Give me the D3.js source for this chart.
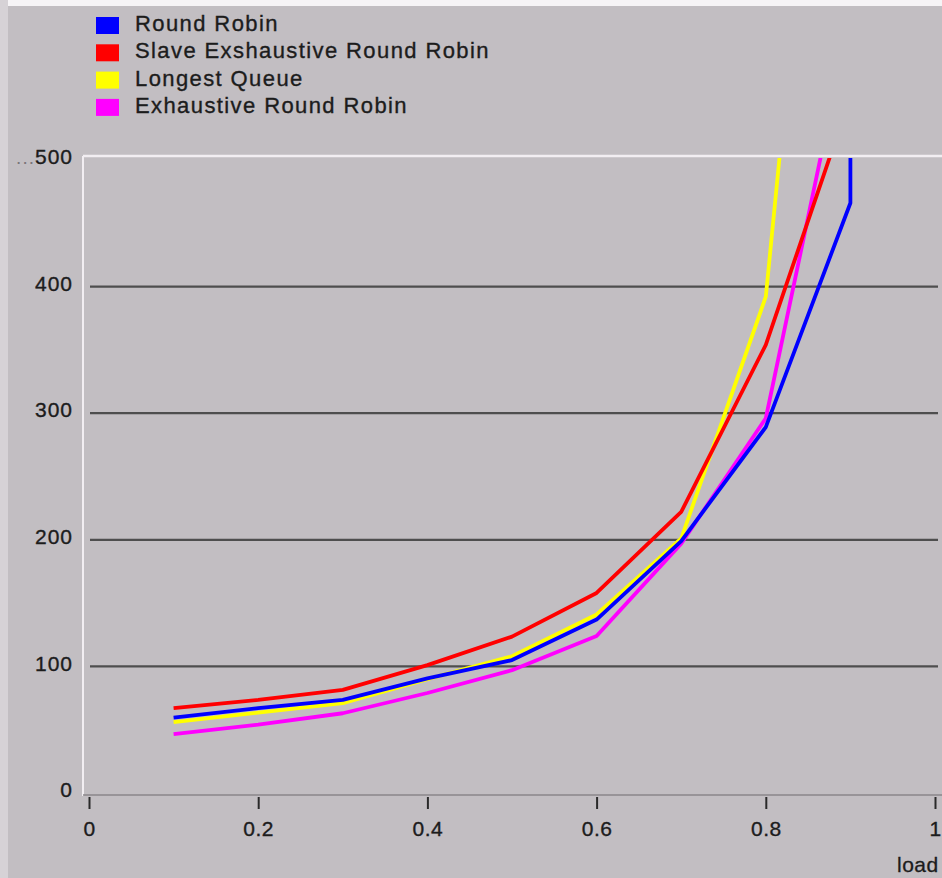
<!DOCTYPE html>
<html>
<head>
<meta charset="utf-8">
<script src="https://cdn.jsdelivr.net/npm/d3@7"></script>
<style>
  html, body { margin: 0; padding: 0; background: #c2bec2; }
  svg { display: block; }
  text { font-family: "Liberation Sans", Arial, sans-serif; fill: #1c1c1c; }
</style>
</head>
<body>
<svg id="chart" width="942" height="878"></svg>
<script>
// ---- data ----
const seriesNames = ["Round Robin", "Slave Exshaustive Round Robin", "Longest Queue", "Exhaustive Round Robin"];
const seriesColors = ["#0000ff", "#ff0000", "#ffff00", "#ff00ff"];
const loads = [0.1, 0.2, 0.3, 0.4, 0.5, 0.6, 0.7, 0.8, 0.9];
const roundRobinLoads = [0.1, 0.2, 0.3, 0.4, 0.5, 0.6, 0.7, 0.8, 0.9, 0.9];
const roundRobin = [59.5, 67, 73.5, 90.5, 105, 137, 199, 289, 466, 620];
const slaveExhaustiveRR = [67, 73.5, 81.5, 101, 123.5, 158, 222, 354, 550];
const longestQueue = [56, 63.5, 71, 90, 108, 141, 201, 392, 1070];
const exhaustiveRR = [46.5, 54, 63, 79, 97, 124, 197, 296, 614];
const xTicks = [0, 0.2, 0.4, 0.6, 0.8, 1];
const xTickLabels = ["0", "0.2", "0.4", "0.6", "0.8", "1"];
const yTicks = [0, 100, 200, 300, 400, 500];
const yTickLabels = ["0", "100", "200", "300", "400", "500"];
const gridValues = [100, 200, 300, 400];
const xAxisTitle = "load";

const svg = d3.select("#chart");
const W = 942, H = 878;
const TXT = "#1c1c1c";

const x = d3.scaleLinear().domain([0, 1]).range([89, 935]);
const y = d3.scaleLinear().domain([0, 500]).range([793, 160]);

// background
svg.append("rect").attr("width", W).attr("height", H).attr("fill", "#c2bec2");
svg.append("rect").attr("x", 0).attr("y", 0).attr("width", W).attr("height", 6).attr("fill", "#f6f4f6");
svg.append("rect").attr("x", 0).attr("y", 0).attr("width", 8).attr("height", H).attr("fill", "#d6d2d6");

// legend
const legend = svg.append("g");
seriesNames.forEach((name, i) => {
  const by = 31 + i * 27.3;
  legend.append("rect").attr("x", 96).attr("y", by - 14).attr("width", 23).attr("height", 17)
    .attr("fill", seriesColors[i]);
  legend.append("text").attr("x", 135).attr("y", by)
    .attr("font-size", 22).attr("letter-spacing", 1.4)
    .attr("stroke", TXT).attr("stroke-width", 0.35).text(name);
});

// plot frame
svg.append("line").attr("x1", 83).attr("x2", W).attr("y1", 156).attr("y2", 156)
  .attr("stroke", "#f2eef2").attr("stroke-width", 2.5);
svg.append("line").attr("x1", 83).attr("x2", 83).attr("y1", 156).attr("y2", 796)
  .attr("stroke", "#f2eef2").attr("stroke-width", 2);

// gridlines
svg.append("g").selectAll("line").data(gridValues).join("line")
  .attr("x1", 90).attr("x2", 938)
  .attr("y1", d => y(d)).attr("y2", d => y(d))
  .attr("stroke", "#4e4e4e").attr("stroke-width", 2.2);

// x axis
const xAxis = d3.axisBottom(x).tickValues(xTicks)
  .tickFormat((d, i) => xTickLabels[i]).tickSize(14).tickPadding(12);
const gx = svg.append("g").attr("transform", "translate(0,795)").call(xAxis);
gx.select(".domain").attr("d", "M83,0H" + W).attr("stroke", "#8a868a").attr("stroke-width", 1.5);
gx.selectAll(".tick line").attr("stroke", "#2a2a2a").attr("stroke-width", 2).attr("y1", 2);
gx.selectAll(".tick text").attr("font-size", 21).attr("letter-spacing", 0.5)
  .attr("fill", TXT).attr("stroke", TXT).attr("stroke-width", 0.35)
  .attr("font-family", "Liberation Sans, Arial, sans-serif");

// y axis
const yAxis = d3.axisLeft(y).tickValues(yTicks)
  .tickFormat((d, i) => yTickLabels[i]).tickSize(0).tickPadding(10);
const gy = svg.append("g").attr("transform", "translate(83,0)").call(yAxis);
gy.select(".domain").remove();
gy.selectAll(".tick text").attr("font-size", 21).attr("letter-spacing", 1)
  .attr("fill", TXT).attr("stroke", TXT).attr("stroke-width", 0.35).attr("dy", "0.18em")
  .attr("font-family", "Liberation Sans, Arial, sans-serif");
gy.selectAll(".tick text").filter(d => d === 500).each(function () {
  const t = d3.select(this);
  t.text(null);
  t.append("tspan").attr("fill", "#7a767a").attr("stroke", "none").attr("font-size", 19).text("...");
  t.append("tspan").text("500");
});

// axis title
svg.append("text").attr("x", 897).attr("y", 872).attr("font-size", 21).attr("letter-spacing", 0.5)
  .attr("stroke", TXT).attr("stroke-width", 0.3).text(xAxisTitle);

// clip
svg.append("clipPath").attr("id", "plotClip").append("rect")
  .attr("x", 84).attr("y", 158).attr("width", 856).attr("height", 636);

const line = d3.line().x(d => x(d[0])).y(d => y(d[1]));
const seriesData = [
  d3.zip(roundRobinLoads, roundRobin),
  d3.zip(loads, slaveExhaustiveRR),
  d3.zip(loads, longestQueue),
  d3.zip(loads, exhaustiveRR)
];
const drawOrder = [3, 2, 0, 1];
const gl = svg.append("g").attr("clip-path", "url(#plotClip)");
drawOrder.forEach(i => {
  gl.append("path").datum(seriesData[i]).attr("d", line)
    .attr("fill", "none").attr("stroke", seriesColors[i])
    .attr("stroke-width", 3.8).attr("stroke-linejoin", "round");
});
</script>
</body>
</html>
